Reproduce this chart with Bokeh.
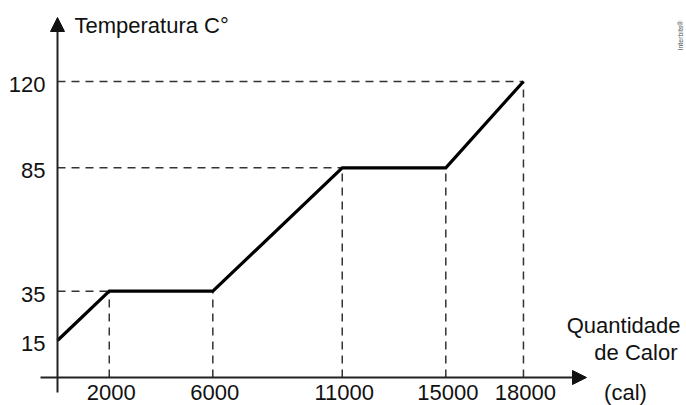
from bokeh.plotting import figure
from bokeh.models import Range1d, Label, Arrow, NormalHead
from bokeh.core.properties import value
from bokeh.embed import file_html
from bokeh.resources import INLINE

# ---- data ----
calor = [0, 2000, 6000, 11000, 15000, 18000]          # cal
temperatura = [15, 35, 35, 85, 85, 120]               # °C
x_ticks = [2000, 6000, 11000, 15000, 18000]
x_tick_labels = ["2000", "6000", "11000", "15000", "18000"]
y_ticks = [15, 35, 85, 120]
y_tick_labels = ["15", "35", "85", "120"]
y_title = "Temperatura C°"
x_title_1 = "Quantidade"
x_title_2 = "de Calor"
x_unit = "(cal)"
credit = "Interbits®"

# ---- layout (figure pixels) ----
W, H = 686, 405
OX, OY = 57, 377          # pixel of the data origin (from left, from top)
PX_X = 38.63              # cal per pixel
PX_Y = 0.4054             # °C per pixel

def fx(px):
    return (px - OX) * PX_X

def fy(py):
    return (OY - py) * PX_Y

FONT = value("Liberation Sans")
FS = "22px"

p = figure(width=W, height=H, output_backend="svg", toolbar_location=None,
           x_range=Range1d(fx(0), fx(W)), y_range=Range1d(fy(H), fy(0)),
           x_axis_type=None, y_axis_type=None, min_border=0)
p.outline_line_color = None
p.background_fill_color = "white"
p.border_fill_color = "white"

# dashed guide lines, derived from the data
lookup = dict(zip(calor, temperatura))
h_x1 = []
for t in y_ticks:
    xs = [c for c, tt in zip(calor, temperatura) if tt == t]
    h_x1.append(min(xs) if xs else 0)
p.segment(x0=[0] * len(y_ticks), y0=y_ticks, x1=h_x1, y1=y_ticks,
          line_color="#333333", line_width=1.5, line_dash="8 6")
p.segment(x0=x_ticks, y0=[0] * len(x_ticks), x1=x_ticks,
          y1=[lookup[c] for c in x_ticks],
          line_color="#333333", line_width=1.5, line_dash="8 6")

# main curve
p.line(calor, temperatura, line_color="black", line_width=3.2, line_join="miter")

# axes with arrows
p.add_layout(Arrow(x_start=0, y_start=fy(392), x_end=0, y_end=fy(17),
                   line_color="#222222", line_width=2,
                   end=NormalHead(size=14, fill_color="#111111", line_color="#111111")))
p.add_layout(Arrow(x_start=fx(40), y_start=0, x_end=fx(586), y_end=0,
                   line_color="#222222", line_width=2,
                   end=NormalHead(size=14, fill_color="#111111", line_color="#111111")))

# tick labels
p.text(x=x_ticks, y=[0] * len(x_ticks), text=x_tick_labels, y_offset=15, x_offset=2,
       text_align="center", text_baseline="middle",
       text_font=FONT, text_font_size=FS, text_color="#111111")
p.text(x=[0] * len(y_ticks), y=y_ticks, text=y_tick_labels, x_offset=-12, y_offset=3,
       text_align="right", text_baseline="middle",
       text_font=FONT, text_font_size=FS, text_color="#111111")

# titles
def lab(txt, x, y, align="left", size=FS, color="#111111", angle=0, baseline="middle"):
    p.add_layout(Label(x=x, y=y, text=txt, text_align=align, text_baseline=baseline,
                       text_font="Liberation Sans", text_font_size=size,
                       text_color=color, angle=angle))

lab(y_title, fx(74), fy(25))
lab(x_title_1, fx(680), fy(325), align="right")
lab(x_title_2, fx(677), fy(352), align="right")
lab(x_unit, fx(625), fy(392), align="center")
lab(credit, fx(680), fy(35), align="center", size="7px", color="#555555",
    angle=1.5708)

open("out.html", "w").write(file_html(p, INLINE))
